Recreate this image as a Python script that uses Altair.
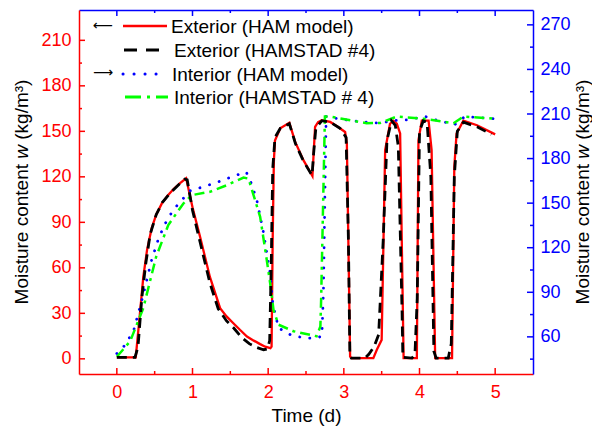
import altair as alt
import pandas as pd

# ---------------- data ----------------
ext_ham_t = [0, 0.25, 0.30, 0.35, 0.40, 0.46, 0.52, 0.595, 0.67, 0.75, 0.84, 0.916, 1.0, 1.10,
             1.23, 1.365, 1.45, 1.54, 1.63, 1.72, 1.81, 1.894, 1.96, 2.03, 2.045, 2.06, 2.075, 2.09,
             2.16, 2.28, 2.357, 2.466, 2.585, 2.62, 2.66, 2.71, 2.82, 2.92, 3.017, 3.04, 3.083, 3.10,
             3.39, 3.436, 3.50, 3.546, 3.61, 3.656, 3.70, 3.744, 3.765, 3.79, 3.965, 3.986, 4.03,
             4.12, 4.16, 4.207, 4.43, 4.46, 4.49, 4.58, 4.76, 5.0]
ext_ham_w = [1, 1, 27, 54, 72, 86, 95, 102.5, 107.5, 112, 116, 119, 100, 80.5,
             54, 33.4, 28, 23.5, 19, 14.7, 12, 9.7, 8, 7, 8, 80, 130, 144,
             152, 155.6, 143, 131, 120.5, 153, 156, 157.3, 156.2, 153, 149.6, 142, 1.5, 0.5,
             0.5, 6, 12.5, 137.6, 155, 157, 155, 148.6, 80, 0.5, 0.5, 144, 157,
             157, 137.6, 0.5, 0.5, 126.6, 148.6, 157, 154, 148]

ext_hamstad_t = [0, 0.24, 0.28, 0.33, 0.38, 0.44, 0.52, 0.60, 0.70, 0.80, 0.90, 0.93, 1.0, 1.10,
                 1.23, 1.34, 1.45, 1.55, 1.65, 1.75, 1.85, 1.94, 1.99, 2.02, 2.04, 2.06, 2.09,
                 2.16, 2.28, 2.36, 2.47, 2.58, 2.60, 2.63, 2.71, 2.82, 2.95, 3.03, 3.06, 3.08, 3.10,
                 3.28, 3.33, 3.40, 3.46, 3.52, 3.57, 3.63, 3.68, 3.72, 3.77, 3.78, 3.90, 3.94, 3.97,
                 4.00, 4.05, 4.10, 4.15, 4.19, 4.22, 4.38, 4.42, 4.46, 4.50, 4.58, 4.76, 4.95]
ext_hamstad_w = [1, 1, 8, 40, 62, 82, 95, 103, 109, 114, 118.5, 118, 98, 77,
                 50, 33, 25, 20, 14, 10, 7.5, 6, 6.5, 12, 60, 125, 146,
                 152, 155, 142, 130, 121, 135, 152, 157, 156, 152, 146, 80, 2, 0.5,
                 0.5, 3, 8, 16, 78, 144, 157, 154, 140, 30, 1, 0.5, 3, 40,
                 150, 157, 156, 120, 5, 0.5, 0.5, 10, 120, 150, 156, 153, 148]

int_ham_t = [0, 0.10, 0.22, 0.35, 0.46, 0.55, 0.64, 0.74, 0.837, 0.97, 1.166, 1.35, 1.54, 1.71,
             1.78, 1.85, 1.94, 2.025, 2.06, 2.136, 2.29, 2.466, 2.62, 2.71, 2.73, 2.766, 2.90,
             3.083, 3.30, 3.48, 3.656, 3.83, 4.075, 4.27, 4.47, 4.60, 5.0]
int_ham_w = [48.8, 54, 63.8, 88.4, 111.8, 126, 136.4, 145, 150.9, 158.3, 161.4, 164.5, 168.1, 171,
             163, 152, 129.7, 102.9, 82.8, 66, 61.5, 59.3, 59, 60.4, 89.5, 208.3, 207,
             205.6, 204.5, 203.8, 205.6, 206, 208.3, 205.2, 203, 208.3, 206.8]

int_hamstad_t = [0, 0.176, 0.35, 0.52, 0.68, 0.88, 0.99, 1.23, 1.45, 1.675, 1.74, 1.894, 1.975,
                 2.026, 2.07, 2.136, 2.334, 2.64, 2.69, 2.70, 2.75, 2.82, 3.30, 3.48, 3.70, 4.05,
                 4.45, 4.58, 5.0]
int_hamstad_w = [46.6, 57, 79.4, 114, 135.3, 149.8, 155.4, 157.6, 162, 167.2, 166.5, 140.8, 114,
                 96.2, 78.3, 68.2, 63.8, 60.4, 67, 85, 208.3, 208.3, 203.8, 204, 208.3, 206.8,
                 203.8, 208.3, 206.8]

x_major = [0, 1, 2, 3, 4, 5]
x_minor = [0.5, 1.5, 2.5, 3.5, 4.5]
yl_major = [0, 30, 60, 90, 120, 150, 180, 210]
yl_minor = [15, 45, 75, 105, 135, 165, 195]
yr_major = [60, 90, 120, 150, 180, 210, 240, 270]
yr_minor = [45, 75, 105, 135, 165, 195, 225, 255]

legend_labels = ["Exterior (HAM model)", "Exterior (HAMSTAD #4)",
                 "Interior (HAM model)", "Interior (HAMSTAD # 4)"]
arrow_left = "\u27f5"
arrow_right = "\u27f6"
y_title_parts = ["Moisture content", "w", "(kg/m\u00b3)"]   # joined by spaces
x_title = "Time (d)"

# ---------------- chart ----------------
W, H = 454, 364
RED, BLUE, GREEN, BLACK = "#FF0000", "#0000FF", "#00FF00", "#000000"
FONT = "Liberation Sans"
TFS = 19  # axis title font size

# Arial / Liberation Sans advance widths (1/1000 em), for laying out the mixed-style title
ADV = {"M": 833, "o": 556, "i": 222, "s": 500, "t": 278, "u": 556, "r": 333, "e": 556,
       " ": 278, "c": 500, "n": 556, "w": 722, "(": 333, "k": 500, "g": 556,
       "/": 278, "m": 833, "\u00b3": 333, ")": 333}


def text_w(s, size):
    return sum(ADV.get(ch, 556) for ch in s) * size / 1000.0


def sdf(t, w):
    return pd.DataFrame({"t": t, "w": w, "i": range(len(t))})


x_scale = alt.Scale(domain=[-0.5, 5.5], nice=False, zero=False)
yl_scale = alt.Scale(domain=[-10, 230], nice=False, zero=False)
yr_scale = alt.Scale(domain=[35, 280], nice=False, zero=False)

bottom_axis = alt.Axis(orient="bottom", values=x_major, tickSize=0, grid=False,
                       domainColor=RED, domainWidth=1.5, labelColor=RED, labelFont=FONT,
                       labelFontSize=18, labelPadding=9, labelFlush=False,
                       title=x_title, titleFont=FONT, titleFontSize=TFS,
                       titleFontWeight="normal", titleColor=BLACK, titlePadding=5)
left_axis = alt.Axis(orient="left", values=yl_major, tickSize=0, grid=False,
                     domainColor=RED, domainWidth=1.5, labelColor=RED, labelFont=FONT,
                     labelFontSize=18, labelPadding=8, labelFlush=False, title=None)
top_axis = alt.Axis(orient="top", labels=False, ticks=False, title=None, grid=False,
                    domainColor=BLUE, domainWidth=1.5)
right_axis = alt.Axis(orient="right", values=yr_major, tickSize=0, grid=False,
                      domainColor=BLUE, domainWidth=1.5, labelColor=BLUE, labelFont=FONT,
                      labelFontSize=18, labelPadding=7, labelFlush=False, title=None)

red = alt.Chart(sdf(ext_ham_t, ext_ham_w)).mark_line(
    color=RED, strokeWidth=2.3, clip=True).encode(
    x=alt.X("t:Q", scale=x_scale, axis=bottom_axis),
    y=alt.Y("w:Q", scale=yl_scale, axis=left_axis),
    order="i:Q")
black = alt.Chart(sdf(ext_hamstad_t, ext_hamstad_w)).mark_line(
    color=BLACK, strokeWidth=2.8, strokeDash=[10, 6], clip=True).encode(
    x=alt.X("t:Q", scale=x_scale, axis=None),
    y=alt.Y("w:Q", scale=yl_scale, axis=None),
    order="i:Q")
blue = alt.Chart(sdf(int_ham_t, int_ham_w)).mark_line(
    color=BLUE, strokeWidth=2.8, strokeDash=[0.1, 10], strokeCap="round", clip=True).encode(
    x=alt.X("t:Q", scale=x_scale, axis=top_axis),
    y=alt.Y("w:Q", scale=yr_scale, axis=right_axis),
    order="i:Q")
green = alt.Chart(sdf(int_hamstad_t, int_hamstad_w)).mark_line(
    color=GREEN, strokeWidth=2.5, strokeDash=[10, 5, 3, 5], clip=True).encode(
    x=alt.X("t:Q", scale=x_scale, axis=None),
    y=alt.Y("w:Q", scale=yr_scale, axis=None),
    order="i:Q")


def xticks(vals, length, top):
    d = pd.DataFrame({"v": vals})
    if top:
        yv, y2v, col = alt.value(0), alt.value(length), BLUE
    else:
        yv, y2v, col = alt.value(H), alt.value(H - length), RED
    return alt.Chart(d).mark_rule(color=col, strokeWidth=1.5).encode(
        x=alt.X("v:Q", scale=x_scale, axis=None), y=yv, y2=y2v)


def yticks(vals, length, right):
    d = pd.DataFrame({"v": vals})
    if right:
        xv, x2v, col, sc = alt.value(W), alt.value(W - length), BLUE, yr_scale
    else:
        xv, x2v, col, sc = alt.value(0), alt.value(length), RED, yl_scale
    return alt.Chart(d).mark_rule(color=col, strokeWidth=1.5).encode(
        y=alt.Y("v:Q", scale=sc, axis=None), x=xv, x2=x2v)


one = pd.DataFrame({"a": [0]})


def leg_line(x1, x2, y, color, width, dash=None, cap="butt"):
    kw = dict(color=color, strokeWidth=width, strokeCap=cap)
    if dash is not None:
        kw["strokeDash"] = dash
    return alt.Chart(one).mark_rule(**kw).encode(
        x=alt.value(x1), x2=alt.value(x2), y=alt.value(y))


def leg_text(x, y, txt, size=19, font=FONT, align="left"):
    return alt.Chart(one).mark_text(text=txt, align=align, baseline="middle",
                                    font=font, fontSize=size, color=BLACK).encode(
        x=alt.value(x), y=alt.value(y))


def y_title(xpos):
    """Rotated title 'Moisture content w (kg/m³)' with an italic w, reading upwards."""
    widths = [text_w(p, TFS) for p in y_title_parts]
    gap = text_w(" ", TFS)
    total = sum(widths) + gap * (len(widths) - 1)
    start = H / 2 + total / 2
    out = []
    for part, wd in zip(y_title_parts, widths):
        style = "italic" if part == "w" else "normal"
        out.append(alt.Chart(one).mark_text(
            text=part, align="left", baseline="middle", angle=270, font=FONT,
            fontSize=TFS, fontStyle=style, color=BLACK).encode(
            x=alt.value(xpos), y=alt.value(start)))
        start -= wd + gap
    return out


legend = [
    leg_line(44, 88, 16, RED, 2.5),
    leg_line(45, 83, 40, BLACK, 3, [13, 9]),
    leg_line(44, 78, 64, BLUE, 3, [0.1, 10.9], "round"),
    leg_line(46, 89, 87, GREEN, 2.8, [16, 6, 3, 6]),
    leg_text(92, 17, legend_labels[0]),
    leg_text(95, 41, legend_labels[1]),
    leg_text(93, 65, legend_labels[2]),
    leg_text(95, 88, legend_labels[3]),
    leg_text(24, 16, arrow_left, 14, "DejaVu Sans", "center"),
    leg_text(24, 63, arrow_right, 14, "DejaVu Sans", "center"),
]

layers = ([red, blue, green, black,
           xticks(x_major, 6, False), xticks(x_minor, 3, False),
           xticks(x_major, 6, True), xticks(x_minor, 3, True),
           yticks(yl_major, 6, False), yticks(yl_minor, 3, False),
           yticks(yr_major, 6, True), yticks(yr_minor, 3, True)]
          + legend + y_title(-57) + y_title(W + 50))

chart = alt.layer(*layers).resolve_scale(y="independent").resolve_axis(
    x="independent", y="independent").properties(
    width=W, height=H,
    padding={"left": 71, "top": 2, "right": 59, "bottom": 55},
    autosize=alt.AutoSizeParams(type="none"),
).configure_view(stroke=None)

chart.save("out.html", embed_options={"renderer": "svg", "actions": False})
